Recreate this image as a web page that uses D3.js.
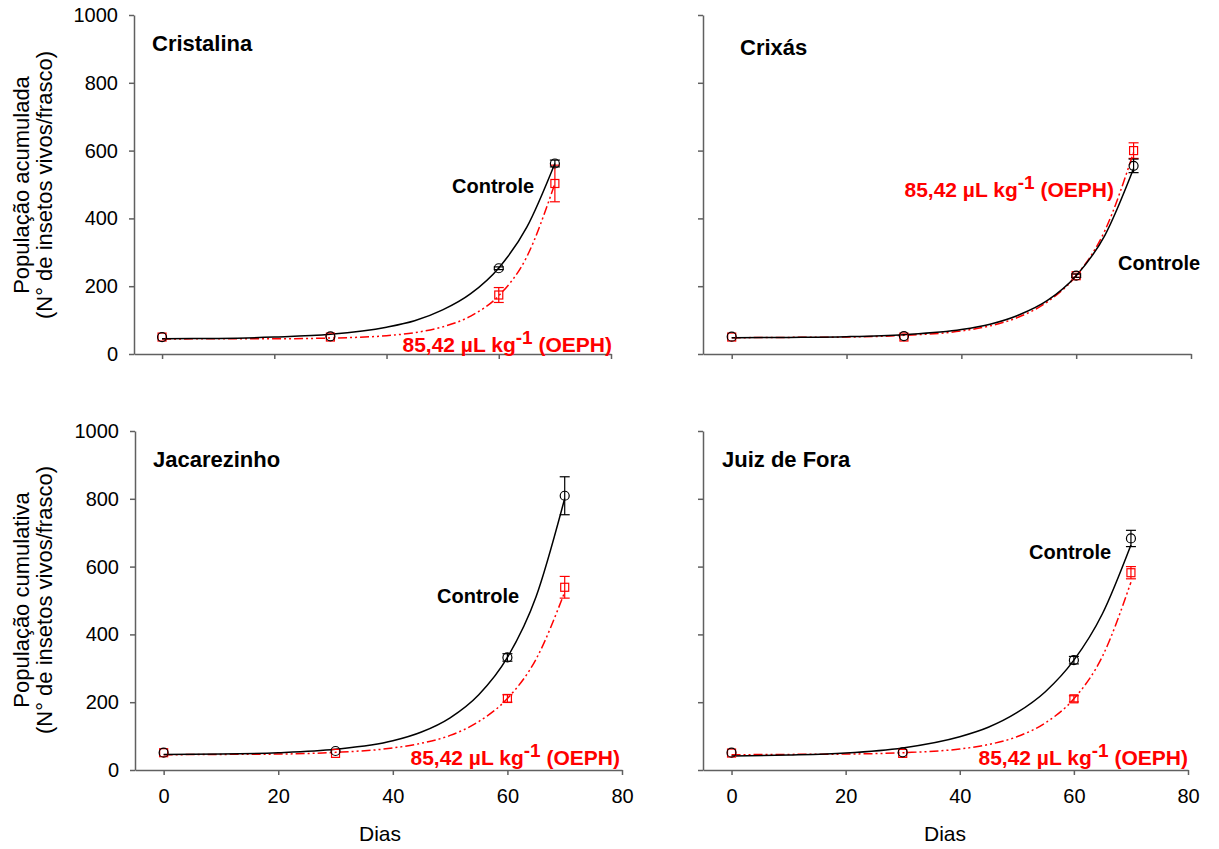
<!DOCTYPE html>
<html>
<head>
<meta charset="utf-8">
<script src="https://cdn.jsdelivr.net/npm/d3@7"></script>
<style>
  body { margin: 0; background: #fff; }
  svg { font-family: "Liberation Sans", Arial, sans-serif; }
</style>
</head>
<body>
<svg id="chart" width="1219" height="849"></svg>
<script>
// sampling days and axis ticks
const days = [0, 30, 60, 70];
const fitDays = [0, 10, 20, 30, 40, 45, 50, 55, 60, 65, 70];
const xTicks = [0, 20, 40, 60, 80];
const yTicks = [0, 200, 400, 600, 800, 1000];

// Cristalina
const cristalinaControle = [50, 52, 253, 562];
const cristalinaControleErr = [0, 0, 4, 10];
const cristalinaOeph = [50, 50, 174, 503];
const cristalinaOephErr = [0, 0, 22, 54];
const cristalinaControleFit = [45, 46, 50, 58, 79, 98, 130, 178, 254, 374, 562];
const cristalinaOephFit = [44, 45, 45, 47, 54, 63, 80, 112, 172, 287, 503];

// Crixás
const crixasControle = [51, 53, 231, 555];
const crixasControleErr = [0, 0, 5, 20];
const crixasOeph = [50, 50, 231, 600];
const crixasOephErr = [0, 0, 5, 23];
const crixasControleFit = [48, 49, 51, 57, 72, 88, 115, 158, 231, 350, 547];
const crixasOephFit = [48, 49, 50, 55, 68, 83, 109, 154, 231, 364, 595];

// Jacarezinho
const jacarezinhoControle = [51, 56, 332, 809];
const jacarezinhoControleErr = [0, 0, 11, 56];
const jacarezinhoOeph = [51, 49, 211, 539];
const jacarezinhoOephErr = [0, 0, 11, 32];
const jacarezinhoControleFit = [46, 47, 51, 61, 86, 112, 154, 222, 332, 511, 801];
const jacarezinhoOephFit = [45, 46, 47, 52, 65, 79, 102, 143, 211, 327, 525];

// Juiz de Fora
const juizControle = [51, 52, 324, 683];
const juizControleErr = [0, 0, 11, 24];
const juizOeph = [50, 49, 210, 582];
const juizOephErr = [0, 0, 9, 18];
const juizControleFit = [41, 44, 50, 65, 98, 126, 169, 231, 324, 461, 664];
const juizOephFit = [45, 46, 47, 51, 62, 75, 98, 139, 210, 335, 554];

const oephLabel = "85,42 µL kg";

const panels = [
  { name: "Cristalina", x: [134, 611], y: [354, 15], left: true, bottom: false,
    ctrl: cristalinaControle, ctrlErr: cristalinaControleErr, oeph: cristalinaOeph, oephErr: cristalinaOephErr,
    ctrlFit: cristalinaControleFit, oephFit: cristalinaOephFit,
    title: [152, 51], ctrlLbl: [452, 193], oephLbl: [612, 352] },
  { name: "Crixás", x: [703, 1191], y: [354, 15], left: false, bottom: false,
    ctrl: crixasControle, ctrlErr: crixasControleErr, oeph: crixasOeph, oephErr: crixasOephErr,
    ctrlFit: crixasControleFit, oephFit: crixasOephFit,
    title: [740, 55], ctrlLbl: [1118, 270], oephLbl: [1114, 197] },
  { name: "Jacarezinho", x: [135, 622], y: [770, 431], left: true, bottom: true,
    ctrl: jacarezinhoControle, ctrlErr: jacarezinhoControleErr, oeph: jacarezinhoOeph, oephErr: jacarezinhoOephErr,
    ctrlFit: jacarezinhoControleFit, oephFit: jacarezinhoOephFit,
    title: [153, 467], ctrlLbl: [437, 603], oephLbl: [620, 765] },
  { name: "Juiz de Fora", x: [703, 1188], y: [770, 431], left: false, bottom: true,
    ctrl: juizControle, ctrlErr: juizControleErr, oeph: juizOeph, oephErr: juizOephErr,
    ctrlFit: juizControleFit, oephFit: juizOephFit,
    title: [722, 467], ctrlLbl: [1029, 559], oephLbl: [1188, 765] }
];

const svg = d3.select("#chart");
const RED = "#ff0000";

function drawPanel(p) {
  const x = d3.scaleLinear().domain([-5, 80]).range(p.x);
  const y = d3.scaleLinear().domain([0, 1000]).range(p.y);
  const g = svg.append("g");

  const yAxis = d3.axisLeft(y).tickValues(yTicks).tickSize(5).tickSizeOuter(0).tickPadding(11)
    .tickFormat(p.left ? d3.format("d") : "");
  const xAxis = d3.axisBottom(x).tickValues(xTicks).tickSize(5).tickSizeOuter(0).tickPadding(14)
    .tickFormat(p.bottom ? d3.format("d") : "");

  [g.append("g").attr("transform", `translate(${p.x[0]},0)`).call(yAxis),
   g.append("g").attr("transform", `translate(0,${p.y[0]})`).call(xAxis)]
    .forEach(a => {
      a.selectAll("path, line").attr("stroke", "#606060").attr("stroke-width", 1.5);
      a.selectAll("text").attr("fill", "#000").style("font-size", "20px")
        .style("font-family", "'Liberation Sans', Arial, sans-serif");
    });

  const line = d3.line().x((d, i) => x(fitDays[i])).y(d => y(d)).curve(d3.curveMonotoneX);

  // error bars
  const bars = (vals, errs, color) => {
    vals.forEach((v, i) => {
      if (!errs[i]) return;
      const cx = x(days[i]), y1 = y(v - errs[i]), y2 = y(v + errs[i]);
      g.append("line").attr("x1", cx).attr("x2", cx).attr("y1", y1).attr("y2", y2)
        .attr("stroke", color).attr("stroke-width", 1.2);
      [y1, y2].forEach(yy => g.append("line").attr("x1", cx - 5).attr("x2", cx + 5)
        .attr("y1", yy).attr("y2", yy).attr("stroke", color).attr("stroke-width", 1.2));
    });
  };
  bars(p.oeph, p.oephErr, RED);
  bars(p.ctrl, p.ctrlErr, "#000");

  g.append("path").datum(p.oephFit).attr("d", line).attr("fill", "none")
    .attr("stroke", RED).attr("stroke-width", 1.5).attr("stroke-dasharray", "9,3,2,3,2,3");
  g.append("path").datum(p.ctrlFit).attr("d", line).attr("fill", "none")
    .attr("stroke", "#000").attr("stroke-width", 1.5);

  g.selectAll(".sq").data(p.oeph).enter().append("rect")
    .attr("x", (d, i) => x(days[i]) - 4).attr("y", d => y(d) - 4)
    .attr("width", 8).attr("height", 8)
    .attr("fill", "none").attr("stroke", RED).attr("stroke-width", 1.2);
  g.selectAll(".ci").data(p.ctrl).enter().append("circle")
    .attr("cx", (d, i) => x(days[i])).attr("cy", d => y(d)).attr("r", 4.5)
    .attr("fill", "none").attr("stroke", "#000").attr("stroke-width", 1.2);

  g.append("text").attr("x", p.title[0]).attr("y", p.title[1])
    .style("font-size", "22px").style("font-weight", "bold").text(p.name);

  g.append("text").attr("x", p.ctrlLbl[0]).attr("y", p.ctrlLbl[1])
    .style("font-size", "20px").style("font-weight", "bold").text("Controle");

  const t = g.append("text").attr("x", p.oephLbl[0]).attr("y", p.oephLbl[1])
    .attr("text-anchor", "end").attr("fill", RED)
    .style("font-size", "21px").style("font-weight", "bold");
  t.append("tspan").text(oephLabel);
  t.append("tspan").attr("dy", -8).style("font-size", "19px").text("-1");
  t.append("tspan").attr("dy", 8).text(" (OEPH)");
}

panels.forEach(drawPanel);

// y axis titles
const yTitles = [
  { lines: ["População acumulada", "(N° de insetos vivos/frasco)"], cy: 185 },
  { lines: ["População cumulativa", "(N° de insetos vivos/frasco)"], cy: 600 }
];
yTitles.forEach(t => {
  const txt = svg.append("text")
    .attr("transform", `translate(29,${t.cy}) rotate(-90)`)
    .attr("text-anchor", "middle").style("font-size", "22px");
  txt.append("tspan").attr("x", 0).attr("y", 0).text(t.lines[0]);
  txt.append("tspan").attr("x", 0).attr("dy", 23).text(t.lines[1]);
});

// x axis titles
[380, 945].forEach(cx => {
  svg.append("text").attr("x", cx).attr("y", 841).attr("text-anchor", "middle")
    .style("font-size", "21px").text("Dias");
});
</script>
</body>
</html>
